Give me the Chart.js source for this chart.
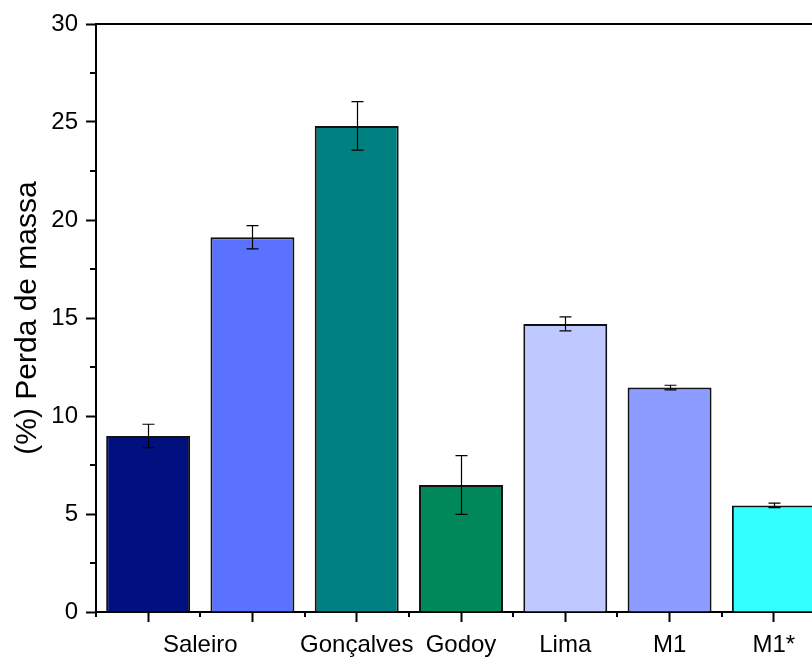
<!DOCTYPE html>
<html>
<head>
<meta charset="utf-8">
<script src="https://cdn.jsdelivr.net/npm/chart.js@4"></script>
<style>
  html, body { margin: 0; padding: 0; background: #fff; overflow: hidden; }
  #wrap { width: 830px; height: 657px; }
</style>
</head>
<body>
<div id="wrap"><canvas id="c" width="830" height="657"></canvas></div>
<script>
// Mass loss per sample (%), with standard deviation
const categories = ['', 'Saleiro', 'Gonçalves', 'Godoy', 'Lima', 'M1', 'M1*'];
const massLoss   = [8.98, 19.12, 24.80, 6.48, 14.70, 11.45, 5.44];
const deviation  = [0.60, 0.59, 1.24, 1.50, 0.36, 0.12, 0.11];
const barColors  = ['#00107F', '#5A72FF', '#008080', '#00885A', '#BFC8FF', '#8C9CFF', '#33FFFF'];
const yTicks     = [0, 5, 10, 15, 20, 25, 30];

const FONT = "'Liberation Sans', Arial, sans-serif";
// the 'Saleiro' label sits half a category to the left of its bar
const labelShift = { 'Saleiro': -0.5 };

const frameAndMarks = {
  id: 'frameAndMarks',
  afterDatasetsDraw(chart) {
    const ctx = chart.ctx;
    const ys = chart.scales.y;
    const meta = chart.getDatasetMeta(0);
    // error bars
    ctx.save();
    ctx.strokeStyle = '#000';
    ctx.lineWidth = 1.2;
    meta.data.forEach((bar, i) => {
      const v = massLoss[i], e = deviation[i];
      const yTop = ys.getPixelForValue(v + e), yBot = ys.getPixelForValue(v - e);
      const x = Math.round(bar.x) + 0.5;
      ctx.beginPath();
      ctx.moveTo(x, yTop); ctx.lineTo(x, yBot);
      ctx.moveTo(x - 6, yTop); ctx.lineTo(x + 6, yTop);
      ctx.moveTo(x - 6, yBot); ctx.lineTo(x + 6, yBot);
      ctx.stroke();
    });
    ctx.restore();
  },
  afterDraw(chart) {
    const ctx = chart.ctx;
    const xs = chart.scales.x, ys = chart.scales.y;
    const a = chart.chartArea;
    ctx.save();
    ctx.strokeStyle = '#000';
    ctx.lineWidth = 2;
    // top and right frame lines
    ctx.beginPath();
    ctx.moveTo(a.left - 1, a.top); ctx.lineTo(a.right, a.top); ctx.lineTo(a.right, a.bottom);
    ctx.stroke();
    // minor ticks on y
    for (let v = 2.5; v < 30; v += 5) {
      const y = Math.round(ys.getPixelForValue(v));
      ctx.beginPath(); ctx.moveTo(a.left - 6, y); ctx.lineTo(a.left, y); ctx.stroke();
    }
    // minor ticks on x, between categories
    for (let i = -0.5; i < categories.length; i += 1) {
      const x = Math.round(xs.getPixelForValue(i));
      ctx.beginPath(); ctx.moveTo(x, a.bottom); ctx.lineTo(x, a.bottom + 5); ctx.stroke();
    }
    // category labels
    ctx.fillStyle = '#000';
    ctx.font = '24px ' + FONT;
    ctx.textAlign = 'center';
    ctx.textBaseline = 'alphabetic';
    categories.forEach((name, i) => {
      if (!name) return;
      const x = xs.getPixelForValue(i + (labelShift[name] || 0));
      ctx.fillText(name, x, a.bottom + 40);
    });
    ctx.restore();
  }
};

new Chart(document.getElementById('c'), {
  type: 'bar',
  data: {
    labels: categories,
    datasets: [{
      data: massLoss,
      backgroundColor: barColors,
      borderColor: '#111',
      borderWidth: 2,
      barPercentage: 0.805,
      categoryPercentage: 1.0
    }]
  },
  options: {
    responsive: false,
    animation: false,
    devicePixelRatio: 1,
    layout: { padding: { top: 24, right: 4, left: 0, bottom: 0 } },
    plugins: { legend: { display: false }, tooltip: { enabled: false } },
    scales: {
      x: {
        offset: true,
        afterFit(s) { s.height = 45; },
        ticks: { display: false },
        grid: { offset: false, drawOnChartArea: false, drawTicks: true, tickLength: 10, tickColor: '#000', tickWidth: 2 },
        border: { display: true, color: '#000', width: 2 }
      },
      y: {
        min: 0, max: 30,
        afterFit(s) { s.width = 96; },
        afterBuildTicks(s) { s.ticks = yTicks.map(v => ({ value: v })); },
        ticks: { color: '#000', font: { family: FONT, size: 24 }, padding: 8 },
        grid: { drawOnChartArea: false, drawTicks: true, tickLength: 10, tickColor: '#000', tickWidth: 2 },
        border: { display: true, color: '#000', width: 2 },
        title: { display: true, text: '(%) Perda de massa', color: '#000', font: { family: FONT, size: 30 }, padding: { top: 10, bottom: 0 } }
      }
    }
  },
  plugins: [frameAndMarks]
});
</script>
</body>
</html>
